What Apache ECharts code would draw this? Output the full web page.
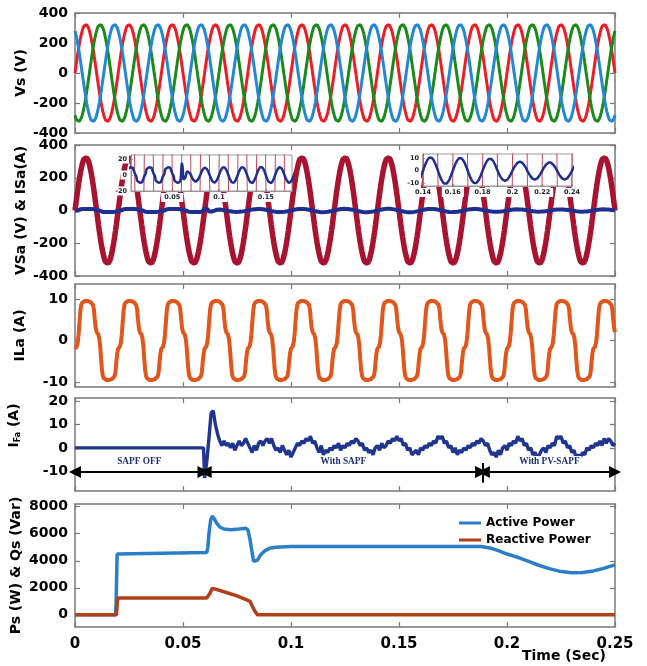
<!DOCTYPE html>
<html><head><meta charset="utf-8">
<script src="https://cdn.jsdelivr.net/npm/echarts@6/dist/echarts.min.js"></script>
<style>html,body{margin:0;padding:0;background:#fff}#c{width:647px;height:666px}</style>
</head><body><div id="c"></div>
<script>
// ================= DATA =================
const cyclePeriod = 0.02;            // s (50 Hz)
const samplesPerHalf = 24;
const tEnd = 0.25;
// one half-cycle of a unit sine, read as 24 samples
const sineHalfUnit = [0, .1305, .2588, .3827, .5, .6088, .7071, .7934, .8660, .9239, .9659, .9914,
                      1, .9914, .9659, .9239, .8660, .7934, .7071, .6088, .5, .3827, .2588, .1305];
const vsPeak = 325;                              // V
const phaseShiftSamples = [0, -16, 16];          // phase a (red), b (green), c (blue)
// one half-cycle of the non-linear load current ILa (A)
const ilaHalf = [-2, -1.8, -1.4, -0.5, 1.5, 4.5, 7.2, 8.6, 9.1, 9.3, 9.4, 9.5,
                 9.6, 9.6, 9.5, 9.5, 9.4, 9.3, 9.2, 9.0, 8.6, 7.5, 5.0, 3.0];
const sapfOnTime = 0.06;
// source current right after the SAPF is switched on (0.06 .. 0.07 s)
const isaTransient = [12, 15, 14, 9, 0, -6, -8, -7, -6, -5, -3, -1,
                      1, 3, 4.5, 5.5, 6, 5.5, 5, 4, 3, 2, 1.2, 0.5];
// peak of each source-current half cycle from 0.07 s on (A)
const isaHalfAmp = [8.5, 9.5, 9.8, 10, 10.2, 10.2, 10.3, 10.5, 10.5, 10, 10, 9.5, 8, 7, 7, 6.5, 7, 7];
// filter current IFa (A), every 1 ms from 0.060 s
const ifaStart = 0.060, ifaStep = 0.001;
const ifaValues = [
 -13,-6,4,15,16,10,6,3,1,3, 1,2,0,2,-1,1,3,1,2,4, 2,0,-2,1,-1,2,3,1,3,4,
 2,4,1,-1,0,-2,1,-1,-3,-1, -4,-2,0,2,1,3,2,4,3,5, 2,3,0,-2,1,-3,-1,-2,0,-1,
 1,0,2,-1,1,0,2,1,3,2, 4,3,1,2,-1,0,-2,-1,-3,0, 1,-1,2,0,1,3,2,4,3,5,
 3,4,1,2,-1,0,-3,-2,-1,-3, 0,-1,1,0,2,1,3,2,5,4, 5,2,3,0,1,-2,0,-3,-1,-2,
 0,-1,1,0,2,1,3,2,4,3, 1,2,-1,-3,-2,-4,-1,-3,0,1, -1,2,1,3,2,5,3,4,1,2,
 -1,0,-3,-2,-4,-3,-1,0,-2,1, 0,2,1,5,4,5,2,3,0,1, -2,-1,-4,-3,-4,-2,-3,0,-1,1,
 0,2,1,3,1,4,2,4,3,1,2];
// source active / reactive power
const pTimes = [0, 0.0188, 0.0190, 0.0192, 0.0195, 0.020, 0.061, 0.0615, 0.062, 0.0628, 0.0635, 0.0645, 0.0655,
  0.067, 0.069, 0.072, 0.076, 0.079, 0.080, 0.081, 0.082, 0.0827, 0.0835, 0.0845, 0.086, 0.088, 0.090, 0.093,
  0.100, 0.188, 0.192, 0.196, 0.200, 0.205, 0.210, 0.215, 0.220, 0.225, 0.230, 0.235, 0.240, 0.245, 0.250];
const pValues = [0, 0, 800, 2200, 4500, 4600, 4620, 5000, 6000, 7000, 7300, 7100, 6800,
  6500, 6350, 6300, 6350, 6400, 6300, 5600, 4600, 3950, 3820, 4050, 4450, 4750, 4920, 5000,
  5050, 5060, 4950, 4750, 4500, 4250, 3950, 3650, 3400, 3200, 3120, 3130, 3250, 3450, 3700];
const qTimes = [0, 0.0192, 0.0196, 0.020, 0.061, 0.0625, 0.0635, 0.065, 0.070, 0.075, 0.0795, 0.081, 0.0825, 0.0838, 0.0845, 0.250];
const qValues = [0, 0, 1000, 1250, 1250, 1600, 1950, 1900, 1650, 1400, 1100, 1000, 500, 150, 0, 0];
// annotations of the IFa panel
const modeNames = ['SAPF OFF', 'With SAPF', 'With PV-SAPF'];
const modeStart = [0, 0.0605, 0.1893];
const modeEnd = [0.0595, 0.1880, 0.2500];
const modeLevel = -10.4;
const modeSwitch = 0.1887, modeSwitchLow = -15, modeSwitchHigh = -6.5;

// ================= BUILD =================
const dt = cyclePeriod / (2 * samplesPerHalf);
const nSamples = Math.round(tEnd / dt);
function halfWave(shape, k) {
  const n = shape.length, m = ((k % (2 * n)) + 2 * n) % (2 * n);
  return m < n ? shape[m] : -shape[m - n];
}
const times = [], va = [], vb = [], vc = [], ila = [], isa = [];
const onIdx = Math.round(sapfOnTime / dt);
for (let k = 0; k <= nSamples; k++) {
  const t = +(k * dt).toFixed(6);
  times.push(t);
  va.push([t, vsPeak * halfWave(sineHalfUnit, k + phaseShiftSamples[0])]);
  vb.push([t, vsPeak * halfWave(sineHalfUnit, k + phaseShiftSamples[1])]);
  vc.push([t, vsPeak * halfWave(sineHalfUnit, k + phaseShiftSamples[2])]);
  const il = halfWave(ilaHalf, k);
  ila.push([t, il]);
  let is;
  if (k < onIdx) is = il;
  else if (k < onIdx + samplesPerHalf) is = isaTransient[k - onIdx];
  else {
    const h = Math.floor(k / samplesPerHalf);
    const amp = isaHalfAmp[Math.min(h - 7, isaHalfAmp.length - 1)];
    is = (h % 2 ? -1 : 1) * amp * sineHalfUnit[k % samplesPerHalf];
  }
  isa.push([t, is]);
}
const ifa = [[0, 0], [0.0595, 0]].concat(ifaValues.map((v, i) => [+(ifaStart + i * ifaStep).toFixed(4), v]));
const pData = pTimes.map((t, i) => [t, pValues[i]]);
const qData = qTimes.map((t, i) => [t, qValues[i]]);

// ================= CHART =================
const F = 'DejaVu Sans';
const AX = '#7a7a7a';
const gridBase = {left: 75, right: 32, outerBoundsMode: 'none', containLabel: false};
const grids = [
  Object.assign({top: 13, height: 120}, gridBase),
  Object.assign({top: 145, height: 131}, gridBase),
  Object.assign({top: 284, height: 103}, gridBase),
  Object.assign({top: 398, height: 93}, gridBase),
  Object.assign({top: 504, height: 123}, gridBase),
  {left: 131, top: 155, width: 161, height: 36, show: true, backgroundColor: '#fff', borderColor: '#999', borderWidth: 1, z: 10, outerBoundsMode: 'none'},
  {left: 423, top: 154, width: 149, height: 32, show: true, backgroundColor: '#fff', borderColor: '#999', borderWidth: 1, z: 10, outerBoundsMode: 'none'}
];
const fmtX = v => String(Math.round(v * 100) / 100);
const fmtY = v => String(Math.round(v));
function xAx(g, pos, labels) {
  return {type: 'value', gridIndex: g, position: pos, min: 0, max: 0.25, interval: 0.05,
    axisLine: {show: true, onZero: false, lineStyle: {color: AX, width: 1.5}},
    axisTick: {show: true, inside: true, length: 5, lineStyle: {color: AX, width: 1.2}},
    axisLabel: {show: labels, margin: 10, color: '#000', fontFamily: F, fontWeight: 'bold', fontSize: 15, formatter: fmtX},
    splitLine: {show: false}};
}
function yAx(g, pos, min, max, ticks, name, gap, extra) {
  const a = {type: 'value', gridIndex: g, position: pos, min: min, max: max,
    axisLine: {show: true, onZero: false, lineStyle: {color: AX, width: 1.5}},
    axisTick: {show: true, inside: true, length: 5, customValues: ticks, lineStyle: {color: AX, width: 1.2}},
    axisLabel: {show: pos === 'left', customValues: ticks, margin: 7, color: '#000', fontFamily: F, fontWeight: 'bold', fontSize: 14, formatter: fmtY},
    splitLine: {show: false}};
  if (name && pos === 'left') {
    a.name = name; a.nameLocation = 'middle'; a.nameRotate = 90; a.nameGap = gap; a.nameMoveOverlap = false;
    a.nameTextStyle = Object.assign({color: '#000', fontFamily: F, fontWeight: 'bold', fontSize: 14}, extra || {});
  }
  return a;
}
const panels = [
  {min: -400, max: 400, ticks: [-400, -200, 0, 200, 400], name: 'Vs (V)', gap: 47},
  {min: -400, max: 400, ticks: [-400, -200, 0, 200, 400], name: 'VSa (V) & ISa(A)', gap: 47},
  {min: -11.2, max: 13.6, ticks: [-10, 0, 10], name: 'ILa (A)', gap: 48},
  {min: -18.6, max: 21.5, ticks: [-10, 0, 10, 20], name: '{m|I}{s|Fa}{m| (A)}', gap: 53,
    extra: {padding: [0, 0, 0, 38], rich: {m: {fontFamily: F, fontWeight: 'bold', fontSize: 14, color: '#000'},
      s: {fontFamily: F, fontWeight: 'bold', fontSize: 8, color: '#000', padding: [7, 0, 0, 0]}}}},
  {min: -900, max: 8200, ticks: [0, 2000, 4000, 6000, 8000], name: 'Ps (W) & Qs (Var)', gap: 52}
];
const xAxes = [], yAxes = [];
panels.forEach((p, g) => {
  xAxes.push(xAx(g, 'bottom', g === 4), xAx(g, 'top', false));
  yAxes.push(yAx(g, 'left', p.min, p.max, p.ticks, p.name, p.gap, p.extra),
             yAx(g, 'right', p.min, p.max, p.ticks));
});
function insetX(g, min, max, ticks) {
  return {type: 'value', gridIndex: g, min: min, max: max, z: 12,
    axisLine: {show: true, onZero: false, lineStyle: {color: '#999', width: 1}},
    axisTick: {show: true, inside: true, length: 2, customValues: ticks, lineStyle: {color: '#999'}},
    axisLabel: {show: true, customValues: ticks, margin: 2, color: '#222', fontFamily: F, fontWeight: 'bold', fontSize: 6.5,
      formatter: fmtX, backgroundColor: '#fff', padding: [1, 3]},
    splitLine: {show: false}};
}
function insetY(g, min, max, ticks) {
  return {type: 'value', gridIndex: g, min: min, max: max, z: 12,
    axisLine: {show: true, onZero: false, lineStyle: {color: '#999', width: 1}},
    axisTick: {show: true, inside: true, length: 2, customValues: ticks, lineStyle: {color: '#999'}},
    axisLabel: {show: true, customValues: ticks, margin: 2, color: '#222', fontFamily: F, fontWeight: 'bold', fontSize: 6.5,
      backgroundColor: '#fff', padding: [1, 2]},
    splitLine: {show: false}};
}
xAxes.push(insetX(5, 0.006, 0.178, [0.05, 0.1, 0.15]), insetX(6, 0.14, 0.24, [0.14, 0.16, 0.18, 0.2, 0.22, 0.24]));
yAxes.push(insetY(5, -20, 25, [-20, 0, 20]), insetY(6, -12, 13, [-10, 0, 10]));

function line(name, data, xi, yi, color, w, z) {
  return {name: name, type: 'line', data: data, xAxisIndex: xi, yAxisIndex: yi, showSymbol: false, symbol: 'none',
    lineStyle: {color: color, width: w}, itemStyle: {color: color}, z: z || 2, animation: false, silent: true, clip: true};
}
const ifaSeries = line('IFa', ifa, 6, 6, '#1f3590', 3.4);
const lblBase = {show: true, position: 'middle', fontFamily: 'Liberation Serif', fontWeight: 'bold', fontSize: 9.3,
  color: '#1e2f70', backgroundColor: '#fff'};
const pads = [[1, 4], [1, 26], [1, 2]];
const mlData = modeNames.map((n, i) => [
  {coord: [modeStart[i], modeLevel], name: n, label: Object.assign({}, lblBase, {formatter: n, padding: pads[i]})},
  {coord: [modeEnd[i], modeLevel]}
]);
mlData.push([
  {coord: [modeSwitch, modeSwitchLow], symbol: 'none', label: {show: false}},
  {coord: [modeSwitch, modeSwitchHigh], symbol: 'none'}
]);
ifaSeries.markLine = {silent: true, animation: false, symbol: ['triangle', 'triangle'], symbolSize: 12,
  lineStyle: {color: '#000', width: 2, type: 'solid'}, label: lblBase, data: mlData};

const series = [
  line('Va', va, 0, 0, '#ee1c25', 3),
  line('Vb', vb, 0, 0, '#1a8a1a', 3),
  line('Vc', vc, 0, 0, '#2387d6', 3),
  line('VSa', va, 2, 2, '#a8142f', 5.5),
  line('ISa', isa, 2, 2, '#1f2f8f', 4),
  line('ILa', ila, 4, 4, '#e0561b', 4),
  ifaSeries,
  line('Active Power', pData, 8, 8, '#2a7fc8', 3.5),
  line('Reactive Power', qData, 8, 8, '#b0401a', 3.5),
  line('VSa inset1', va, 10, 10, '#c04a5a', 1, 12),
  line('ISa inset1', isa, 10, 10, '#1f2f8f', 2.5, 13),
  line('VSa inset2', va, 11, 11, '#c04a5a', 1, 12),
  line('ISa inset2', isa, 11, 11, '#1f2f8f', 2.5, 13)
];

const chart = echarts.init(document.getElementById('c'), null, {renderer: 'canvas'});
chart.setOption({
  animation: false,
  backgroundColor: '#fff',
  grid: grids,
  xAxis: xAxes,
  yAxis: yAxes,
  legend: {data: ['Active Power', 'Reactive Power'], left: 454, top: 512, orient: 'vertical', icon: 'rect',
    itemWidth: 22, itemHeight: 3, itemGap: 5, textStyle: {fontFamily: F, fontWeight: 'bold', fontSize: 12, color: '#000'}},
  title: {text: 'Time (Sec)', left: 522, top: 649, padding: 0,
    textStyle: {fontFamily: F, fontWeight: 'bold', fontSize: 14, color: '#000'}},
  series: series
});
</script></body></html>
